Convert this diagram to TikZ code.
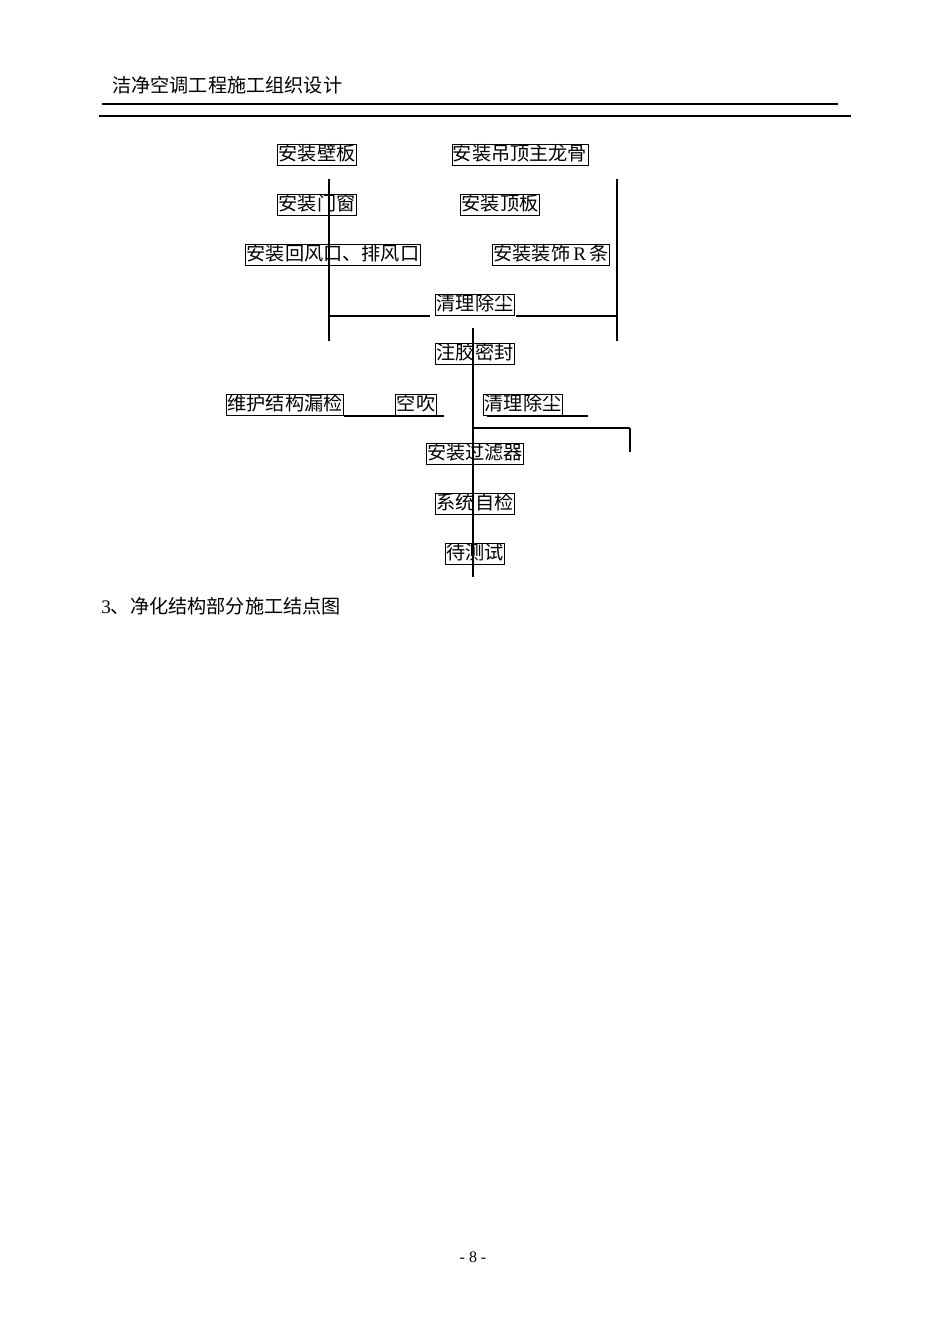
\documentclass[tikz,border=0pt]{standalone}
\usepackage{fontspec}
\setmainfont{Liberation Serif}
\newfontfamily\cjk{Noto Sans CJK SC}
\tikzset{
  stepbox/.style={draw, line width=0.5pt, inner sep=0.6pt, text height=9.4pt, text depth=3pt, font=\cjk\fontsize{12}{14}\selectfont},
  plain/.style={inner sep=0pt, font=\cjk\fontsize{12}{14}\selectfont},
  link/.style={line width=0.8pt}
}
\begin{document}
\begin{tikzpicture}[x=0.6263pt, y=-0.6263pt]
      \useasboundingbox (0,0) rectangle (950,1344);
      \draw
        (317,155) node[stepbox] (wall){安装壁板}
        (520,155) node[stepbox] (keel){安装吊顶主龙骨}
        (317,205) node[stepbox] (door){安装门窗}
        (500,205) node[stepbox] (ceil){安装顶板}
        (333,255) node[stepbox] (vent){安装回风口、排风口}
        (551,255) node[stepbox] (trim){{\cjk 安装装饰}\,\rmfamily R\,{\cjk 条}}
        (475,305) node[stepbox] (cleanA){清理除尘}
        (475,354) node[stepbox] (seal){注胶密封}
        (285,405) node[stepbox] (leak){维护结构漏检}
        (416,405) node[stepbox] (blow){空吹}
        (523,405) node[stepbox] (cleanB){清理除尘}
        (475,454) node[stepbox] (filter){安装过滤器}
        (475,504) node[stepbox] (check){系统自检}
        (475,554) node[stepbox] (test){待测试};
      % page head and foot
      \node[plain, anchor=west] (head) at (112,85) {洁净空调工程施工组织设计};
      \node[plain, anchor=west] (part) at (101,606) {\rmfamily 3{\cjk 、净化结构部分施工结点图}};
      \node[plain, font=\rmfamily\fontsize{10}{12}\selectfont] (page) at (473,1257) {- 8 -};
      \coordinate (ruleAw) at (102,104);
      \coordinate (ruleAe) at (838,104);
      \coordinate (ruleBw) at (99,116);
      \coordinate (ruleBe) at (851,116);
      % line ends
      \coordinate (lt) at (329,179);
      \coordinate (lm) at (329,316);
      \coordinate (lb) at (329,341);
      \coordinate (rt) at (617,179);
      \coordinate (rm) at (617,316);
      \coordinate (rb) at (617,341);
      \coordinate (ca) at (430,316);
      \coordinate (cb) at (516,316);
      \coordinate (mt) at (473,328);
      \coordinate (mb) at (473,577);
      \coordinate (mj) at (473,428);
      \coordinate (jr) at (630,428);
      \coordinate (jb) at (630,452);
      \coordinate (ua) at (344,416);
      \coordinate (ub) at (444,416);
      \coordinate (uc) at (487,416);
      \coordinate (ud) at (588,416);
      \begin{scope}[link]
        \draw[line width=0.7pt] (ruleAw) to (ruleAe);
        \draw[line width=1pt] (ruleBw) to (ruleBe);
        \draw (lt) to (lb);
        \draw (rt) to (rb);
        \draw (lm) to (ca);
        \draw (cb) to (rm);
        \draw (mt) to (mb);
        \draw (mj) to (jr);
        \draw (jr) to (jb);
        \draw (ua) to (ub);
        \draw (uc) to (ud);
      \end{scope}
    \end{tikzpicture}
\end{document}
